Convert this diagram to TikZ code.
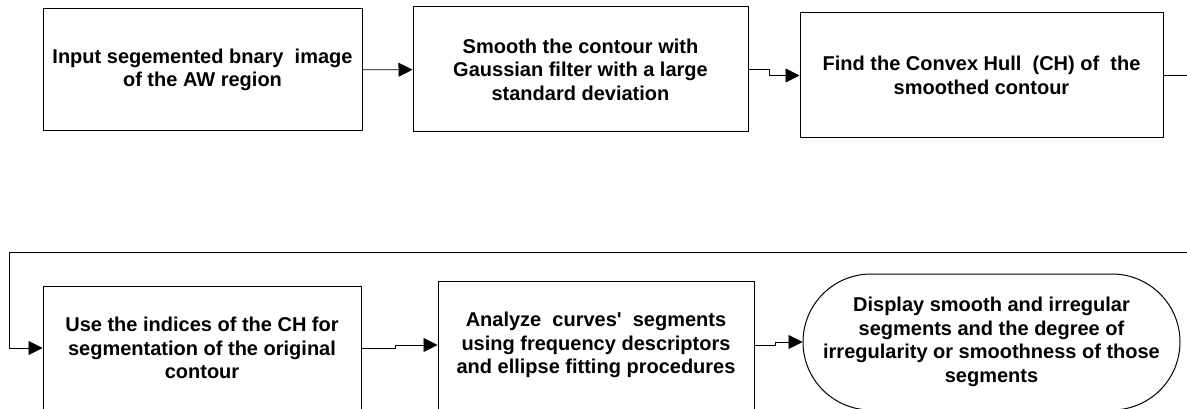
\documentclass[tikz,border=0pt]{standalone}
\usepackage{fontspec}
\setmainfont{Liberation Sans}
\usetikzlibrary{positioning,arrows.meta,shapes.misc}

\tikzset{
	stepbox/.style={draw, rectangle, line width=1pt, inner sep=0pt, align=center,
		font=\fontsize{20}{23.5}\selectfont\bfseries},
	endbox/.style={stepbox, rounded rectangle},
	flow/.style={line width=0.9pt, -{Triangle[length=14pt,width=14pt]}},
}

\begin{document}
\begin{tikzpicture}[x=1pt,y=-1pt]
	\useasboundingbox (0,0) rectangle (1187,409);
	\clip (0,0) rectangle (1187,409);
	\node [stepbox, minimum width=319pt, minimum height=122pt] (input) at (202.5,70) {Input segemented bnary~ image\\of the AW region};
	\node [stepbox, minimum width=335pt, minimum height=125pt, right=50pt of input, yshift=0.5pt] (smooth) {Smooth the contour with\\Gaussian filter with a large\\standard deviation};
	\node [stepbox, minimum width=363pt, minimum height=125pt, right=51pt of smooth, yshift=-6pt] (hull) {Find the Convex Hull~ (CH) of~ the\\smoothed contour};
	\node [stepbox, minimum width=318pt, minimum height=124pt] (use) at (202,348) {Use the indices of the CH for\\segmentation of the original\\contour};
	\node [stepbox, minimum width=316pt, minimum height=128pt, right=76pt of use, yshift=3pt] (analyze) {Analyze~ curves\textquotesingle~ segments\\using frequency descriptors\\and ellipse fitting procedures};
	\node [endbox, minimum width=377pt, minimum height=136pt, right=48pt of analyze, yshift=3pt] (display) {Display smooth and irregular\\segments and the degree of\\irregularity or smoothness of those\\segments};
	\coordinate (turn) at (1200,252);
	\coordinate (back) at (9,252);
	\draw [flow] (input) -- (smooth);
	\draw [flow] (smooth.east) -- ++(21,0) |- (hull.west);
	\draw [flow] (hull.east) -| (turn) -- (back) |- (use.west);
	\draw [flow] (use.east) -- ++(34,0) |- (analyze.west);
	\draw [flow] (analyze.east) -- ++(21,0) |- (display.west);
\end{tikzpicture}
\end{document}
